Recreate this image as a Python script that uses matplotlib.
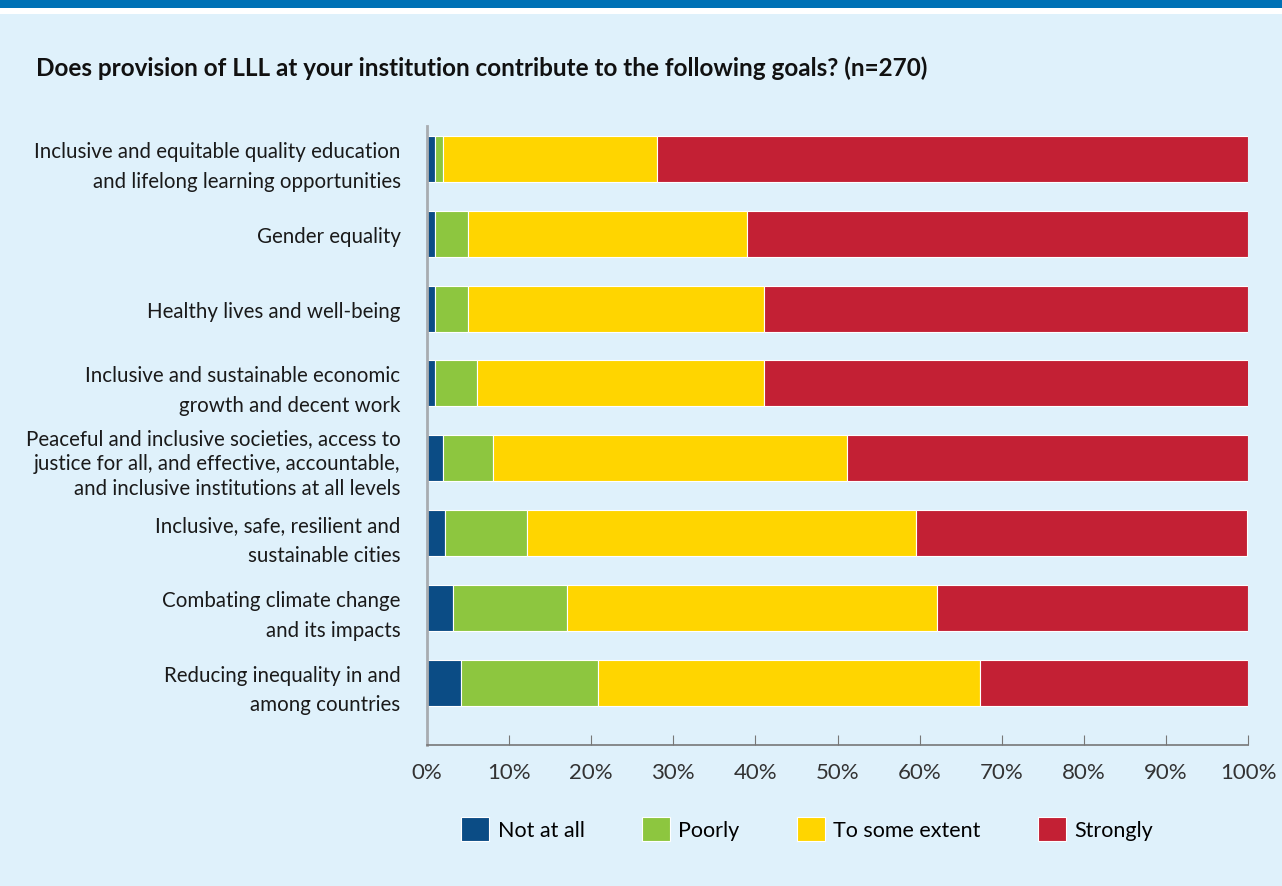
import matplotlib.pyplot as plt
import numpy as np
from matplotlib.patches import Rectangle

plt.rcParams['font.family'] = ['Lato', 'DejaVu Sans']

goals = [
    "Inclusive and equitable quality education\nand lifelong learning opportunities",
    "Gender equality",
    "Healthy lives and well-being",
    "Inclusive and sustainable economic\ngrowth and decent work",
    "Peaceful and inclusive societies, access to\njustice for all, and effective, accountable,\nand inclusive institutions at all levels",
    "Inclusive, safe, resilient and\nsustainable cities",
    "Combating climate change\nand its impacts",
    "Reducing inequality in and\namong countries",
]
not_at_all = [1.0, 1.0, 1.0, 1.0, 2.0, 2.2, 3.2, 4.1]
poorly = [1.0, 4.0, 4.0, 5.1, 6.0, 10.0, 13.8, 16.7]
some_extent = [26.0, 34.0, 36.0, 35.0, 43.2, 47.4, 45.1, 46.6]
strongly = [72.0, 61.0, 59.0, 59.0, 48.8, 40.3, 37.9, 32.6]

series = [("Not at all", not_at_all, "#0b4c85"),
          ("Poorly", poorly, "#8dc63f"),
          ("To some extent", some_extent, "#ffd500"),
          ("Strongly", strongly, "#c32034")]

bg = "#dff1fb"
fig = plt.figure(figsize=(12.82, 8.87), dpi=100)
fig.patch.set_facecolor("white")
# panel background and top band
fig.patches.append(Rectangle((0, 0), 1, 1 - 15 / 887, transform=fig.transFigure,
                             facecolor=bg, edgecolor="none", zorder=-2))
fig.patches.append(Rectangle((0, 1 - 9 / 887), 1, 9 / 887, transform=fig.transFigure,
                             facecolor="#0071b5", edgecolor="none", zorder=-2))

ax = fig.add_axes([427 / 1282, 1 - 746 / 887, (1248 - 427) / 1282, (746 - 127) / 887])
ax.set_facecolor(bg)

y = np.arange(len(goals))
left = np.zeros(len(goals))
for name, vals, col in series:
    ax.barh(y, vals, left=left, height=0.615, color=col, edgecolor="white",
            linewidth=0.8, label=name)
    left += np.array(vals)

ax.set_xlim(0, 100)
ax.set_ylim(7.83, -0.44)
ax.set_yticks(y)
ax.set_yticklabels(goals, fontsize=14.8, color="#1a1a1a", linespacing=1.6)
# three-line label is set tighter in the original
for lab in ax.get_yticklabels():
    if lab.get_text().count("\n") == 2:
        lab.set_linespacing(1.32)
ax.set_xticks(np.arange(0, 101, 10))
ax.set_xticklabels([f"{v}%" for v in range(0, 101, 10)], fontsize=16, color="#333333")
ax.tick_params(axis="x", direction="in", length=7, color="#777777", pad=12)
ax.tick_params(axis="y", length=0, pad=19)
for s in ["top", "right"]:
    ax.spines[s].set_visible(False)
ax.spines["left"].set_color("#a8acb0")
ax.spines["left"].set_linewidth(2)
ax.spines["bottom"].set_color("#777777")
ax.spines["bottom"].set_linewidth(1.2)

fig.text(36 / 1282, 1 - 68 / 887, "Does provision of LLL at your institution contribute to the following goals? (n=270)",
         fontsize=17.5, fontweight="bold", color="#111111", va="center")

handles, labels = ax.get_legend_handles_labels()
leg = fig.legend(handles, labels, loc="center", bbox_to_anchor=(807 / 1282, 1 - 830 / 887),
                 ncol=4, frameon=False, fontsize=15.5, handlelength=1.3, handleheight=1.3,
                 columnspacing=2.65, handletextpad=0.4)

fig.savefig("out.png", dpi=100, facecolor=fig.get_facecolor())
